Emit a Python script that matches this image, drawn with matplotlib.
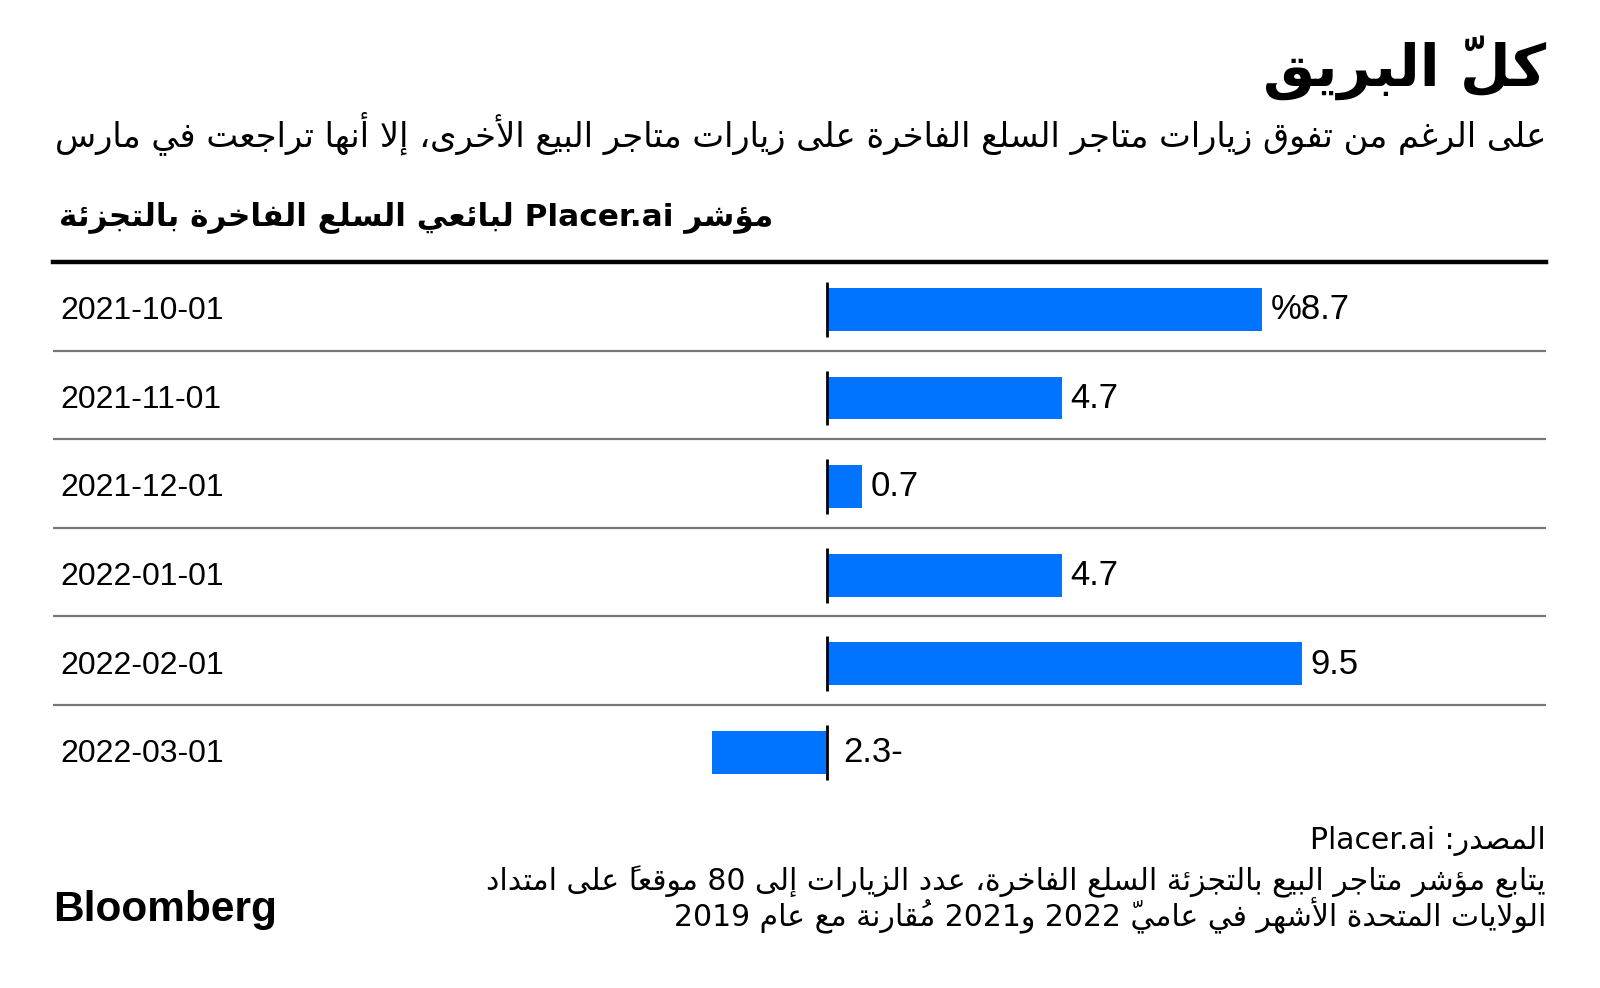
import numpy as np
import matplotlib
matplotlib.use("Agg")
import matplotlib.pyplot as plt

# ---------------- data ----------------
dates = ["2021-10-01", "2021-11-01", "2021-12-01", "2022-01-01", "2022-02-01", "2022-03-01"]
values = [8.7, 4.7, 0.7, 4.7, 9.5, -2.3]

title = "كلّ البريق"
subtitle = "على الرغم من تفوق زيارات متاجر السلع الفاخرة على زيارات متاجر البيع الأخرى، إلا أنها تراجعت في مارس"
chart_label = "مؤشر Placer.ai لبائعي السلع الفاخرة بالتجزئة"
source = "المصدر: Placer.ai"
note_lines = [
    "يتابع مؤشر متاجر البيع بالتجزئة السلع الفاخرة، عدد الزيارات إلى 80 موقعاً على امتداد",
    "الولايات المتحدة الأشهر في عاميّ 2022 و2021 مُقارنة مع عام 2019",
]
brand = "Bloomberg"

BAR_COLOR = "#0073ff"

# ---------------- minimal Arabic shaping + bidi ----------------
_DUAL = {'ئ': 0xFE89, 'ب': 0xFE8F, 'ت': 0xFE95, 'ث': 0xFE99, 'ج': 0xFE9D, 'ح': 0xFEA1,
         'خ': 0xFEA5, 'س': 0xFEB1, 'ش': 0xFEB5, 'ص': 0xFEB9, 'ض': 0xFEBD, 'ط': 0xFEC1,
         'ظ': 0xFEC5, 'ع': 0xFEC9, 'غ': 0xFECD, 'ف': 0xFED1, 'ق': 0xFED5, 'ك': 0xFED9,
         'ل': 0xFEDD, 'م': 0xFEE1, 'ن': 0xFEE5, 'ه': 0xFEE9, 'ي': 0xFEF1}
_RIGHT = {'آ': 0xFE81, 'أ': 0xFE83, 'ؤ': 0xFE85, 'إ': 0xFE87, 'ا': 0xFE8D, 'ة': 0xFE93,
          'د': 0xFEA9, 'ذ': 0xFEAB, 'ر': 0xFEAD, 'ز': 0xFEAF, 'و': 0xFEED, 'ى': 0xFEEF}
_NONJ = {'ء': 0xFE80}
_LAMALEF = {'آ': 0xFEF5, 'أ': 0xFEF7, 'إ': 0xFEF9, 'ا': 0xFEFB}


def _is_mark(c):
    o = ord(c)
    return 0x064B <= o <= 0x0652 or o == 0x0670


def ar(s):
    ch = list(s)
    n = len(ch)

    def prev_l(i):
        j = i - 1
        while j >= 0 and _is_mark(ch[j]):
            j -= 1
        return j

    def next_l(i):
        j = i + 1
        while j < n and _is_mark(ch[j]):
            j += 1
        return j

    clusters = []  # [base, marks]
    i = 0
    while i < n:
        c = ch[i]
        if c in _DUAL or c in _RIGHT or c in _NONJ:
            p, q = prev_l(i), next_l(i)
            jp = p >= 0 and ch[p] in _DUAL and c not in _NONJ
            if c == 'ل' and q < n and ch[q] in _LAMALEF:
                g = chr(_LAMALEF[ch[q]] + (1 if jp else 0))
                clusters.append([g, ''.join(ch[i + 1:q])])
                i = q + 1
                continue
            jn = c in _DUAL and q < n and (ch[q] in _DUAL or ch[q] in _RIGHT)
            if c in _DUAL:
                g = _DUAL[c] + (3 if (jp and jn) else 2 if jn else 1 if jp else 0)
            elif c in _RIGHT:
                g = _RIGHT[c] + (1 if jp else 0)
            else:
                g = _NONJ[c]
            clusters.append([chr(g), ''])
        elif _is_mark(c) and clusters:
            clusters[-1][1] += c
        else:
            clusters.append([c, ''])
        i += 1

    # in visual (left-to-right) order the mark is drawn from the pen position
    # rightwards, so it goes just before its base glyph
    clusters = [m + b for b, m in clusters]

    def is_ltr(cl):
        c = cl[-1]
        return c.isascii() and c.isalnum()

    segs = []
    k, m = 0, len(clusters)
    while k < m:
        if is_ltr(clusters[k]):
            j = k
            while j + 1 < m and (is_ltr(clusters[j + 1]) or
                                 (clusters[j + 1] in '.,:%-' and j + 2 < m and is_ltr(clusters[j + 2]))):
                j += 1
            segs.append(''.join(clusters[k:j + 1]))
            k = j + 1
        else:
            segs.append(clusters[k])
            k += 1
    return ''.join(reversed(segs))


# ---------------- figure ----------------
W, H = 1600, 988
fig = plt.figure(figsize=(W / 100, H / 100), dpi=100)
fig.patch.set_facecolor("white")


def fx(px):
    return px / W


def fy(py):
    return 1 - py / H


AR = "DejaVu Sans"
NUM = "Liberation Sans"

fig.text(fx(1546), fy(86), ar(title), ha="right", va="baseline",
         fontsize=42, fontweight="bold", family=AR, color="black")
fig.text(fx(1546), fy(146), ar(subtitle), ha="right", va="baseline",
         fontsize=24.3, family=AR, color="black")
fig.text(fx(773), fy(225), ar(chart_label), ha="right", va="baseline",
         fontsize=22.4, fontweight="bold", family=AR, color="black")

fig.text(fx(1546), fy(849), ar(source), ha="right", va="baseline",
         fontsize=21.5, family=AR, color="black")
for k, line in enumerate(note_lines):
    fig.text(fx(1546), fy(890 + 36 * k), ar(line), ha="right", va="baseline",
             fontsize=21.5, family=AR, color="black")
fig.text(fx(53), fy(921), brand, ha="left", va="baseline",
         fontsize=30.5, fontweight="bold", family=NUM, color="black")

# ---------------- axes ----------------
top_px, row_px = 262, 88.6
n = len(values)
bottom_px = top_px + n * row_px
left_px, right_px = 53, 1546
ax = fig.add_axes([fx(left_px), fy(bottom_px), fx(right_px - left_px), (bottom_px - top_px) / H])
ax.axis("off")

zero_frac = (826.6 - left_px) / (right_px - left_px)
span_units = (right_px - left_px) / 50.0
ax.set_xlim(-zero_frac * span_units, (1 - zero_frac) * span_units)
ax.set_ylim(n - 0.5, -0.5)

y = np.arange(n)
ax.barh(y + 0.035, values, height=0.485, color=BAR_COLOR, zorder=2)
ax.vlines(np.zeros(n), y + 0.035 - 0.31, y + 0.035 + 0.31, color="black", lw=2, zorder=3)

ax.axhline(-0.5, color="black", lw=3.2, clip_on=False, zorder=4)
for k in range(1, n):
    ax.axhline(k - 0.5, color="#777777", lw=1.6, zorder=1)


def fmt(v, first):
    s = f"{abs(v):.1f}"
    if v < 0:
        s = s + "-"
    if first:
        s = "%" + s
    return s


for i, (d, v) in enumerate(zip(dates, values)):
    ax.annotate(d, xy=(0.0047, i), xycoords=("axes fraction", "data"),
                xytext=(0, -13), textcoords="offset pixels", ha="left", va="baseline",
                fontsize=23, family=NUM, color="black")
    xv = v if v >= 0 else 0
    off = 9 if v >= 0 else 17
    ax.annotate(fmt(v, i == 0), xy=(xv, i), xycoords="data",
                xytext=(off, -13), textcoords="offset pixels", ha="left", va="baseline",
                fontsize=25, family=NUM, color="black")

fig.savefig("out.png", dpi=100, facecolor="white")
